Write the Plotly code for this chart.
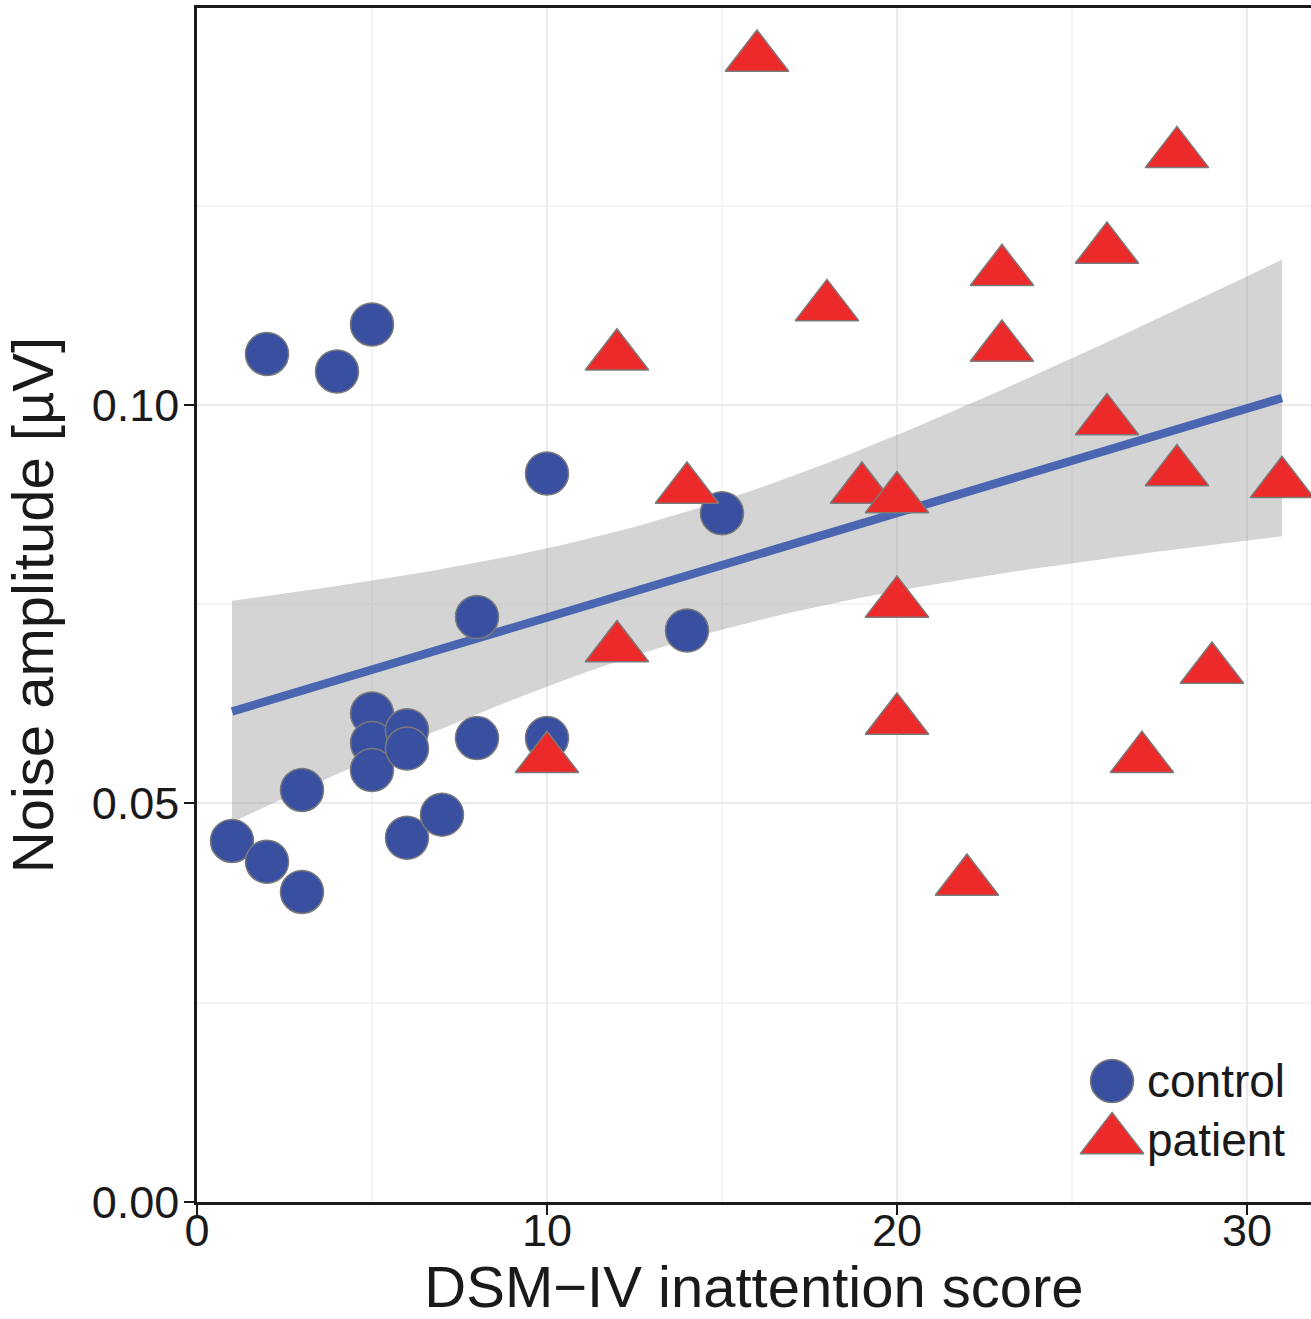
import numpy as np
import plotly.graph_objects as go

# ---------------- data ----------------
control_score = [1, 2, 3, 3, 5, 5, 5, 6, 6, 6, 7, 8, 10, 2, 4, 5, 8, 10, 14, 15]
control_noise = [0.0453, 0.0427, 0.0389, 0.0517, 0.0613, 0.0576, 0.0542, 0.0592, 0.0569,
                 0.0457, 0.0486, 0.0582, 0.0582, 0.1064, 0.1042, 0.1101, 0.0734, 0.0914,
                 0.0717, 0.0864]

patient_score = [16, 28, 26, 23, 18, 12, 23, 26, 14, 19, 20, 28, 31, 20, 12, 29, 20, 10, 27, 22]
patient_noise = [0.1436, 0.1315, 0.1195, 0.1167, 0.1123, 0.1061, 0.1072, 0.0980, 0.0894,
                 0.0894, 0.0882, 0.0916, 0.0901, 0.0751, 0.0695, 0.0668, 0.0604, 0.0556,
                 0.0556, 0.0402]

group_names = ["control", "patient"]
x_ticks = [0, 10, 20, 30]
x_tick_labels = ["0", "10", "20", "30"]
y_ticks = [0.00, 0.05, 0.10]
y_tick_labels = ["0.00", "0.05", "0.10"]
x_title = "DSM\u2212IV inattention score"
y_title = "Noise amplitude [\u00b5V]"

# ---------------- linear fit with 95% CI (as geom_smooth(method="lm")) ----------------
x_all = np.array(control_score + patient_score, dtype=float)
y_all = np.array(control_noise + patient_noise, dtype=float)
n = len(x_all)
b1, b0 = np.polyfit(x_all, y_all, 1)
xs = np.linspace(x_all.min(), x_all.max(), 80)
yhat = b0 + b1 * xs
resid = y_all - (b0 + b1 * x_all)
s = np.sqrt(np.sum(resid ** 2) / (n - 2))
xbar = x_all.mean()
sxx = np.sum((x_all - xbar) ** 2)
t_crit = 2.024  # t(0.975, df=38)
se = s * np.sqrt(1.0 / n + (xs - xbar) ** 2 / sxx)
upper = yhat + t_crit * se
lower = yhat - t_crit * se

# ---------------- styles ----------------
FONT = "Liberation Sans, Arial, Helvetica, sans-serif"
BLUE = "#3950a1"
RED = "#ec2a2a"
LINE_BLUE = "#4a66b1"
EDGE = "#7a7a7a"
CIRCLE_SIZE = 43
TRI_SIZE = 55

fig = go.Figure()

fig.add_trace(go.Scatter(
    x=np.concatenate([xs, xs[::-1]]), y=np.concatenate([upper, lower[::-1]]),
    fill="toself", fillcolor="rgba(153,153,153,0.42)", mode="lines",
    line=dict(width=0), hoverinfo="skip", showlegend=False))

fig.add_trace(go.Scatter(
    x=xs, y=yhat, mode="lines", line=dict(color=LINE_BLUE, width=8.5),
    hoverinfo="skip", showlegend=False))

fig.add_trace(go.Scatter(
    x=control_score, y=control_noise, mode="markers", name=group_names[0],
    marker=dict(symbol="circle", size=CIRCLE_SIZE, color=BLUE,
                line=dict(color=EDGE, width=1.5)),
    showlegend=False))

fig.add_trace(go.Scatter(
    x=patient_score, y=patient_noise, mode="markers", name=group_names[1],
    marker=dict(symbol="triangle-up", size=TRI_SIZE, color=RED,
                line=dict(color=EDGE, width=1.5)),
    showlegend=False))

# ---------------- custom legend (large keys, like the original) ----------------
leg_x = 0.8214
leg_y = [0.1013, 0.052]
fig.add_trace(go.Scatter(
    x=[leg_x], y=[leg_y[0]], xaxis="x2", yaxis="y2", mode="markers",
    marker=dict(symbol="circle", size=CIRCLE_SIZE, color=BLUE, line=dict(color=EDGE, width=1.5)),
    hoverinfo="skip", showlegend=False))
fig.add_trace(go.Scatter(
    x=[leg_x], y=[leg_y[1]], xaxis="x2", yaxis="y2", mode="markers",
    marker=dict(symbol="triangle-up", size=TRI_SIZE, color=RED, line=dict(color=EDGE, width=1.5)),
    hoverinfo="skip", showlegend=False))

annotations = []
for name, yy in zip(group_names, leg_y):
    annotations.append(dict(
        x=0.851, y=yy, xref="paper", yref="paper", text=name, showarrow=False,
        xanchor="left", yanchor="middle", font=dict(family=FONT, size=46, color="#1a1a1a")))

shapes = [dict(type="rect", xref="paper", yref="paper", x0=0.7855, x1=0.9856,
               y0=0.0184, y1=0.1784, fillcolor="white", line=dict(width=0), layer="between")]

axis_common = dict(
    showline=True, linecolor="#1a1a1a", linewidth=2.5, automargin=False,
    ticks="outside", ticklen=10, tickwidth=2, tickcolor="#1a1a1a",
    tickfont=dict(family=FONT, size=45, color="#1a1a1a"),
    showgrid=True, gridcolor="#ebebeb", gridwidth=1.5, zeroline=False,
)

fig.update_layout(
    width=1311, height=1319,
    margin=dict(l=197, r=0, t=8, b=117, autoexpand=False),
    paper_bgcolor="white", plot_bgcolor="white",
    font=dict(family=FONT, color="#1a1a1a"),
    showlegend=False,
    xaxis=dict(range=[0, 31.83], tickvals=x_ticks, ticktext=x_tick_labels, mirror=True,
               ticklabelstandoff=-23,
               minor=dict(dtick=5, tick0=0, showgrid=True, gridcolor="#f4f4f4", gridwidth=1.5),
               title=dict(text=x_title, font=dict(family=FONT, size=58, color="#1a1a1a"), standoff=47),
               **axis_common),
    yaxis=dict(range=[0, 0.1498], tickvals=y_ticks, ticktext=y_tick_labels, mirror=False,
               ticklabelstandoff=-4,
               minor=dict(dtick=0.025, tick0=0, showgrid=True, gridcolor="#f4f4f4", gridwidth=1.5),
               title=dict(text=y_title, font=dict(family=FONT, size=58, color="#1a1a1a"), standoff=20),
               **axis_common),
    xaxis2=dict(overlaying="x", range=[0, 1], visible=False, fixedrange=True),
    yaxis2=dict(overlaying="y", range=[0, 1], visible=False, fixedrange=True),
    annotations=annotations,
    shapes=shapes,
)

fig.write_html("out.html")
